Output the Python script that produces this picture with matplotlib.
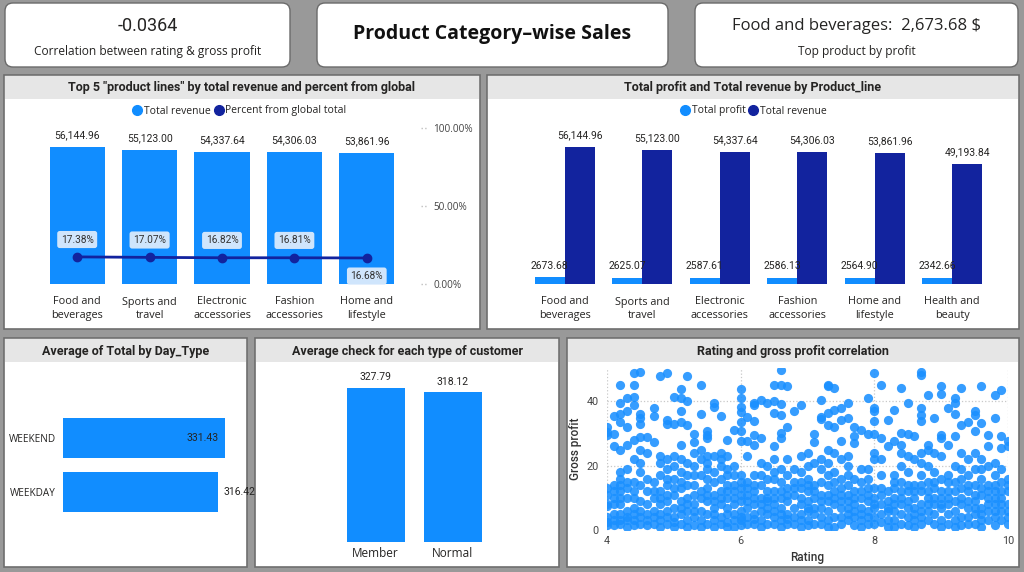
import matplotlib
matplotlib.use('Agg')
import matplotlib.pyplot as plt
from matplotlib.patches import FancyBboxPatch, Rectangle
from matplotlib.lines import Line2D
import matplotlib.transforms as mtransforms
import numpy as np

# ---------------- data ----------------
correlation_value = "-0.0364"
top5_lines = ["Food and\nbeverages", "Sports and\ntravel", "Electronic\naccessories",
              "Fashion\naccessories", "Home and\nlifestyle"]
top5_revenue = [56144.96, 55123.00, 54337.64, 54306.03, 53861.96]
top5_pct = [0.1738, 0.1707, 0.1682, 0.1681, 0.1668]
pct_ticks = [0.0, 0.5, 1.0]

product_lines = ["Food and\nbeverages", "Sports and\ntravel", "Electronic\naccessories",
                 "Fashion\naccessories", "Home and\nlifestyle", "Health and\nbeauty"]
total_profit = [2673.68, 2625.07, 2587.61, 2586.13, 2564.90, 2342.66]
total_revenue = [56144.96, 55123.00, 54337.64, 54306.03, 53861.96, 49193.84]

day_types = ["WEEKEND", "WEEKDAY"]
day_avg_total = [331.43, 316.42]

customer_types = ["Member", "Normal"]
customer_avg_check = [327.79, 318.12]

gross_profit_by_rating = {
    4.0: [29.6, 32.2, 30.5, 13, 11, 8, 7.5, 4, 2.5, 1.5],
    4.1: [35.5, 30, 26, 14, 12, 10, 8, 5, 3, 1.5],
    4.2: [45, 39.5, 36, 33.6, 25, 18, 16, 14, 12, 10, 8, 5, 3, 2],
    4.3: [41, 37, 32, 26.5, 19, 15, 13, 10, 6, 4, 3, 1],
    4.4: [49, 45, 41.5, 39, 28, 22, 15, 12, 10, 7, 5, 3, 1.5],
    4.5: [49.3, 36, 35, 33, 29, 25, 21, 18, 14, 9, 6, 4, 2],
    4.6: [29, 24, 16, 12, 8, 5, 3, 1.5],
    4.7: [38, 35.5, 27.5, 15, 12, 10, 6, 4, 2],
    4.8: [48, 23, 21, 17, 12, 10, 8, 5, 3, 1],
    4.9: [48.7, 34.3, 33, 22, 19, 16, 14, 11, 9, 6, 4, 2],
    5.0: [41.5, 33, 23, 20, 16, 13, 11, 7, 4, 2.5, 1],
    5.1: [44, 41, 37, 33.5, 26.3, 22, 18, 15, 13, 9, 7, 5, 2],
    5.2: [47.8, 40, 32.7, 21, 17, 14, 10, 8, 6, 3, 1],
    5.3: [30, 27.3, 24, 20, 17, 14, 11, 8, 6, 4, 1.5],
    5.4: [45, 36.2, 25, 22, 17, 12, 10, 6, 3, 1],
    5.5: [30.7, 29.6, 28.6, 23, 21, 19, 16, 13, 11, 9, 5, 2],
    5.6: [39.5, 38.4, 23, 18, 15, 11, 9, 7, 5, 3, 1],
    5.7: [35.5, 24, 22, 20, 16, 12, 10, 8, 4, 2],
    5.8: [28, 23, 19, 17, 14, 12, 10, 7, 5, 2.5, 1],
    5.9: [31.2, 20, 17, 14, 12, 10, 8, 5, 3, 1],
    6.0: [44, 41, 38.4, 36.7, 33.6, 30.7, 27.6, 17, 15, 13, 11, 9, 6, 4, 3, 1.5],
    6.1: [35.3, 27.6, 23, 15, 13, 11, 9, 7, 4, 2],
    6.2: [39.5, 39, 33.8, 29.6, 26.5, 17, 14, 12, 10, 8, 5, 3.5, 2],
    6.3: [40.5, 28.6, 21, 17, 14, 10, 8, 6, 3, 1],
    6.4: [39.5, 20, 16, 12, 10, 9, 7, 5, 2],
    6.5: [45, 40, 36.4, 26, 22, 18, 16, 12, 10, 8, 6, 4, 2],
    6.6: [49.8, 45, 39.2, 35.8, 30.2, 28.6, 19, 15, 12, 10, 7, 5, 3, 1],
    6.7: [44.7, 32.2, 22, 17, 13, 11, 9, 5, 3.5, 2],
    6.8: [37.1, 19, 15, 13, 11, 7, 4, 2],
    6.9: [38.8, 23, 18, 15, 13, 10, 8, 5, 3, 1],
    7.0: [24, 20, 16, 14, 12, 9, 7, 6, 3, 1.5],
    7.1: [29.8, 27.4, 21, 14, 12, 10, 7, 5, 2],
    7.2: [40.5, 35.3, 34.6, 22, 19, 15, 11, 9, 7, 4, 2],
    7.3: [45.2, 44.7, 36.4, 32.7, 25, 21, 17, 14, 11, 9, 6, 3, 1],
    7.4: [44.1, 37.4, 32.2, 24, 18, 15, 12, 10, 8, 4, 1],
    7.5: [37.9, 34.3, 27.6, 22, 16, 13, 11, 9, 7, 4, 2],
    7.6: [39.5, 35, 23, 20, 17, 14, 11, 9, 7, 5, 3],
    7.7: [32.2, 29.1, 27, 16, 12, 10, 8, 6, 4, 1.5],
    7.8: [31.2, 19, 15, 12, 10, 7, 5, 3, 1],
    7.9: [41, 29.8, 19, 16, 13, 11, 9, 6, 4, 2],
    8.0: [48.8, 37.9, 36.9, 33.8, 29.8, 24, 22, 13, 10, 8, 7, 4, 2],
    8.1: [45.2, 28.6, 22, 17, 13, 11, 8, 5, 2.5],
    8.2: [34.3, 26, 12, 9, 7, 6, 3, 1],
    8.3: [37.4, 27.6, 17, 15, 13, 10, 8, 6, 3, 1],
    8.4: [44.1, 30.2, 26.5, 24, 20, 15, 12, 10, 8, 5, 2],
    8.5: [39.5, 29.8, 23, 18, 14, 12, 9, 7, 4, 1.5],
    8.6: [29.1, 22, 14, 12, 10, 7, 5, 3, 1],
    8.7: [49.3, 48.3, 37.9, 35.8, 33.8, 24, 21, 17, 14, 12, 8, 6, 4, 2],
    8.8: [42, 26.5, 25, 20, 15, 12, 10, 8, 6, 3],
    8.9: [35, 24, 18, 15, 13, 10, 8, 5, 2],
    9.0: [44.7, 42.3, 29.6, 28.6, 23, 16, 12, 10, 8, 7, 3, 1],
    9.1: [37.9, 26.3, 17, 15, 12, 10, 8, 5, 2],
    9.2: [41, 39.5, 36.1, 29.1, 20, 15, 12, 9, 6, 3, 1],
    9.3: [44.1, 32.7, 24, 19, 16, 13, 10, 8, 4, 1.5],
    9.4: [33.5, 22, 17, 14, 12, 9, 7, 4, 2],
    9.5: [37.1, 35.8, 30.7, 24, 19, 14, 11, 9, 7, 5, 2],
    9.6: [44.7, 33.3, 22, 19, 16, 13, 11, 7, 5, 3, 1],
    9.7: [29.6, 26, 20, 14, 12, 10, 8, 6, 3],
    9.8: [42, 35, 21, 17, 14, 12, 10, 8, 6, 4, 1.5],
    9.9: [43.6, 29.1, 25.5, 19, 15, 12, 10, 8, 6, 3],
    10.0: [27.6, 26, 16, 14, 12, 8, 6, 4, 2],
}

# ---------------- style ----------------
BLUE = '#118DFF'
NAVY = '#12239E'
TXT = '#252423'
GREY_TXT = '#444444'
SEGOE = ['Open Sans', 'DejaVu Sans']
DIN = ['Roboto', 'DejaVu Sans']
plt.rcParams['font.family'] = SEGOE

W, H = 1024, 572
fig = plt.figure(figsize=(W / 100, H / 100), dpi=100)
fig.patch.set_facecolor('#999999')

bg = fig.add_axes([0, 0, 1, 1])
bg.set_xlim(0, W)
bg.set_ylim(H, 0)
bg.axis('off')


def rect(x0, y0, x1, y1):
    return [x0 / W, 1 - y1 / H, (x1 - x0) / W, (y1 - y0) / H]


def card(x0, y0, x1, y1):
    bg.add_patch(FancyBboxPatch((x0, y0), x1 - x0, y1 - y0,
                                boxstyle='round,pad=0,rounding_size=8',
                                fc='white', ec='#6a6a6a', lw=1))


def panel(x0, y0, x1, y1, title):
    bg.add_patch(Rectangle((x0, y0), x1 - x0, y1 - y0, fc='white', ec='#6e6e6e', lw=1.2))
    bg.add_patch(Rectangle((x0 + 1, y0 + 1), x1 - x0 - 2, 23, fc='#e6e6e6', ec='none'))
    bg.text((x0 + x1) / 2, y0 + 13, title, ha='center', va='center', fontsize=9,
            fontweight='bold', family=DIN, color=TXT)


# ---- top cards ----
card(5, 3, 290, 67)
bg.text(148, 26, correlation_value, ha='center', va='center', fontsize=13, family=DIN, color=TXT)
bg.text(148, 51, "Correlation between rating & gross profit", ha='center', va='center',
        fontsize=8.6, color=TXT)

card(317, 3, 668, 67)
bg.text(492, 34, "Product Category\u2013wise Sales", ha='center', va='center', fontsize=14,
        fontweight='bold', color='#111111')

card(695, 3, 1018, 67)
top_name = product_lines[int(np.argmax(total_profit))].replace('\n', ' ')
bg.text(857, 26, f"{top_name}:  {max(total_profit):,.2f} $", ha='center', va='center',
        fontsize=12, color=TXT)
bg.text(857, 51, "Top product by profit", ha='center', va='center', fontsize=8.6, color=TXT)

# ---- panels ----
panel(4, 75, 480, 329, 'Top 5 "product lines" by total revenue and percent from global')
panel(487, 75, 1019, 329, 'Total profit and Total revenue by Product_line')
panel(4, 338, 247, 567, 'Average of Total by Day_Type')
panel(255, 338, 559, 567, 'Average check for each type of customer')
panel(567, 338, 1019, 567, 'Rating and gross profit correlation')


def legend(cx, cy, items):
    handles = [Line2D([], [], marker='o', ls='none', color=c, ms=7) for _, c in items]
    fig.legend(handles, [n for n, _ in items], loc='center', ncol=len(items),
               bbox_to_anchor=(cx / W, 1 - cy / H), bbox_transform=fig.transFigure,
               frameon=False, handletextpad=0.3, columnspacing=0.4, handlelength=0.7,
               prop={'size': 7.5, 'family': SEGOE}, labelcolor=TXT)


def clean(ax):
    for s in ax.spines.values():
        s.set_visible(False)
    ax.set_facecolor('none')


# ---- chart 1: top 5 ----
ax1 = fig.add_axes(rect(41, 128, 403, 284))
clean(ax1)
x1 = np.arange(len(top5_lines))
ax1.bar(x1, top5_revenue, width=0.76, color=BLUE)
ax1.set_xlim(-0.5, len(x1) - 0.5)
ax1.set_ylim(0, 64000)
ax1.set_yticks([])
ax1.set_xticks(x1)
ax1.set_xticklabels(top5_lines, fontsize=7.8, color=TXT, linespacing=1.35)
ax1.tick_params(axis='x', length=0, pad=9)
for xi, v in zip(x1, top5_revenue):
    ax1.annotate(f'{v:,.2f}', (xi, v), xytext=(0, 8.5), textcoords='offset points',
                 ha='center', va='center', fontsize=7.5, color=TXT, family=DIN)
ax1b = ax1.twinx()
clean(ax1b)
ax1b.plot(x1, top5_pct, color=NAVY, lw=2, marker='o', ms=6)
ax1b.set_ylim(0, 1)
ax1b.set_yticks(pct_ticks)
ax1b.set_yticklabels([f'{t*100:.2f}%' for t in pct_ticks], fontsize=7.2, color=GREY_TXT)
ax1b.tick_params(axis='y', length=0, pad=22)
tr = mtransforms.blended_transform_factory(ax1b.transAxes, ax1b.transData)
for t in pct_ticks:
    ax1b.plot([1.05, 1.07], [t, t], transform=tr, ls=':', lw=1, color='#c0c0c0', clip_on=False)
pct_label_above = [True, True, True, True, False]
for xi, p, above in zip(x1, top5_pct, pct_label_above):
    ax1b.annotate(f'{p*100:.2f}%', (xi, p), xytext=(0, 12.5 if above else -13),
                  textcoords='offset points', ha='center', va='center', fontsize=7.3,
                  color='#333333', family=DIN,
                  bbox=dict(boxstyle='round,pad=0.35,rounding_size=0.25', fc='#cfe5fc', ec='none'))
legend(240, 111, [('Total revenue', BLUE), ('Percent from global total', NAVY)])

# ---- chart 2: profit & revenue ----
ax2 = fig.add_axes(rect(526, 128, 991, 284))
clean(ax2)
x2 = np.arange(len(product_lines))
bw = 0.385
ax2.bar(x2 - bw / 2, total_profit, width=bw, color=BLUE)
ax2.bar(x2 + bw / 2, total_revenue, width=bw, color=NAVY)
ax2.set_xlim(-0.5, len(x2) - 0.5)
ax2.set_ylim(0, 64000)
ax2.set_yticks([])
ax2.set_xticks(x2)
ax2.set_xticklabels(product_lines, fontsize=7.8, color=TXT, linespacing=1.35)
ax2.tick_params(axis='x', length=0, pad=9)
for xi, p, r in zip(x2, total_profit, total_revenue):
    ax2.annotate(f'{p:.2f}', (xi - bw / 2, p), xytext=(0, 8.5), textcoords='offset points',
                 ha='center', va='center', fontsize=7.5, color=TXT, family=DIN)
    ax2.annotate(f'{r:,.2f}', (xi + bw / 2, r), xytext=(0, 8.5), textcoords='offset points',
                 ha='center', va='center', fontsize=7.5, color=TXT, family=DIN)
legend(754, 111, [('Total profit', BLUE), ('Total revenue', NAVY)])

# ---- chart 3: day type ----
ax3 = fig.add_axes(rect(63, 411, 240, 519))
clean(ax3)
y3 = np.arange(len(day_types))
ax3.barh(y3, day_avg_total, height=0.75, color=BLUE)
ax3.set_ylim(len(y3) - 0.5, -0.5)
ax3.set_xlim(0, 362)
ax3.set_xticks([])
ax3.set_yticks(y3)
ax3.set_yticklabels(day_types, fontsize=7.2, color=TXT)
ax3.tick_params(axis='y', length=0, pad=5)
day_label_inside = [True, False]
for yi, v, inside in zip(y3, day_avg_total, day_label_inside):
    ax3.annotate(f'{v:.2f}', (v, yi), xytext=(-4.5 if inside else 4, 0),
                 textcoords='offset points', ha='right' if inside else 'left', va='center',
                 fontsize=7.5, color=TXT, family=DIN)

# ---- chart 4: customer type ----
ax4 = fig.add_axes(rect(337, 370, 491.6, 541.7))
clean(ax4)
x4 = np.arange(len(customer_types))
ax4.bar(x4, customer_avg_check, width=0.75, color=BLUE)
ax4.set_xlim(-0.5, len(x4) - 0.5)
ax4.set_ylim(0, 365.5)
ax4.set_yticks([])
ax4.set_xticks(x4)
ax4.set_xticklabels(customer_types, fontsize=8.5, color=TXT)
ax4.tick_params(axis='x', length=0, pad=4)
for xi, v in zip(x4, customer_avg_check):
    ax4.annotate(f'{v:.2f}', (xi, v), xytext=(0, 7.7), textcoords='offset points',
                 ha='center', va='center', fontsize=7.5, color=TXT, family=DIN)

# ---- chart 5: scatter ----
ax5 = fig.add_axes(rect(607, 368, 1008, 530))
clean(ax5)
ratings = [r for r, vals in gross_profit_by_rating.items() for _ in vals]
profits = [v for vals in gross_profit_by_rating.values() for v in vals]
ax5.scatter(ratings, profits, s=44, color='#1a90ff', alpha=0.88, linewidths=0, zorder=3)
ax5.set_xlim(4, 10)
ax5.set_ylim(0, 50.4)
ax5.set_xticks([4, 6, 8, 10])
ax5.set_yticks([0, 20, 40])
ax5.grid(True, ls=':', color='#c8c8c8', lw=0.9, zorder=0)
ax5.tick_params(length=0, labelsize=7.8, labelcolor=GREY_TXT)
ax5.tick_params(axis='y', pad=6)
ax5.tick_params(axis='x', pad=4)
for lab in ax5.get_xticklabels() + ax5.get_yticklabels():
    lab.set_family(DIN)
ax5.set_xlabel('Rating', fontsize=8.5, color='#333333', family=DIN, fontweight='medium', labelpad=4)
ax5.set_ylabel('Gross profit', fontsize=8.5, color='#333333', family=DIN, fontweight='medium', labelpad=3)

fig.savefig('out.png', dpi=100, facecolor=fig.get_facecolor())
